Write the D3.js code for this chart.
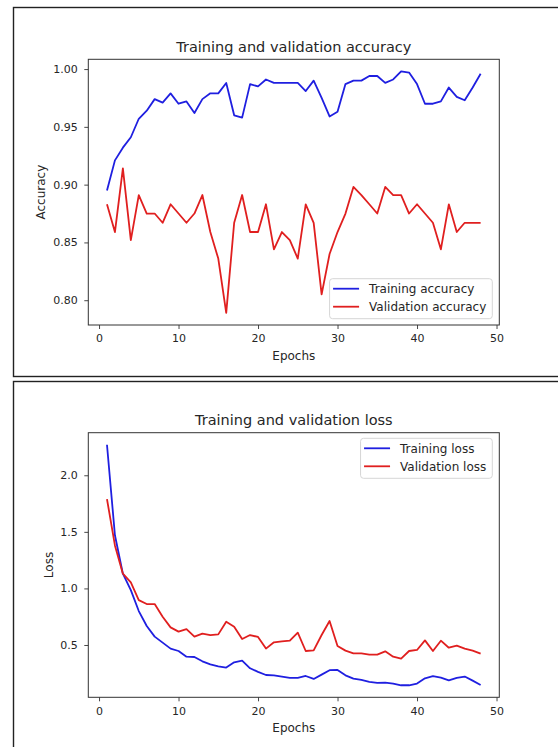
<!DOCTYPE html>
<html lang="en">
<head>
<meta charset="UTF-8">
<script src="https://d3js.org/d3.v7.min.js"></script>
<title>Training and validation curves</title>
<style>
  body { margin: 0; background: #fff; }
  text { font-family: "DejaVu Sans", sans-serif; fill: #262626; }
</style>
</head>
<body>
<div id="chart"></div>
<script>
// data (epochs 1..48)
const epochs = d3.range(1, 49);
const trainAcc = [0.895,0.921,0.932,0.941,0.957,0.964,0.974,0.971,0.979,0.970,
                  0.972,0.962,0.974,0.979,0.979,0.988,0.960,0.958,0.987,0.985,
                  0.991,0.988,0.988,0.988,0.988,0.981,0.990,0.975,0.959,0.963,
                  0.987,0.990,0.990,0.994,0.994,0.988,0.991,0.998,0.997,0.987,
                  0.970,0.970,0.972,0.984,0.976,0.973,0.984,0.996];
const valAcc = [0.883,0.859,0.914,0.852,0.891,0.875,0.875,0.867,0.883,0.875,
                0.867,0.875,0.891,0.859,0.836,0.789,0.867,0.891,0.859,0.859,
                0.883,0.844,0.859,0.852,0.836,0.883,0.867,0.805,0.840,0.859,
                0.875,0.898,0.891,0.883,0.875,0.898,0.891,0.891,0.875,0.883,
                0.875,0.867,0.844,0.883,0.859,0.867,0.867,0.867];
const trainLoss = [2.27,1.47,1.13,0.985,0.80,0.668,0.574,0.521,0.468,0.447,
                   0.397,0.394,0.356,0.329,0.312,0.300,0.347,0.362,0.294,0.262,
                   0.235,0.232,0.221,0.209,0.209,0.226,0.200,0.238,0.277,0.279,
                   0.232,0.203,0.191,0.174,0.165,0.168,0.159,0.144,0.144,0.159,
                   0.206,0.224,0.212,0.188,0.209,0.221,0.185,0.147];
const valLoss = [1.79,1.38,1.13,1.053,0.897,0.862,0.862,0.750,0.656,0.618,
                 0.641,0.574,0.600,0.588,0.594,0.706,0.662,0.553,0.588,0.571,
                 0.468,0.524,0.532,0.538,0.609,0.447,0.453,0.588,0.712,0.491,
                 0.450,0.426,0.426,0.415,0.415,0.444,0.397,0.379,0.447,0.456,
                 0.541,0.447,0.538,0.476,0.494,0.468,0.450,0.424];

const xTicks = [0, 10, 20, 30, 40, 50];
const accTicks = [0.80, 0.85, 0.90, 0.95, 1.00];
const lossTicks = [0.5, 1.0, 1.5, 2.0];

const blue = "#1f1fe0", red = "#e01f1f";

const svg = d3.select("#chart").append("svg")
    .attr("width", 558)
    .attr("height", 747);

// the two output cells have a dark frame, clipped on the right/bottom
svg.append("rect")
    .attr("x", 13.5).attr("y", 7.5).attr("width", 600).attr("height", 369)
    .attr("fill", "none").attr("stroke", "#222").attr("stroke-width", 1.4);
svg.append("rect")
    .attr("x", 13.5).attr("y", 381.5).attr("width", 600).attr("height", 420)
    .attr("fill", "none").attr("stroke", "#222").attr("stroke-width", 1.4);

// matplotlib style autoscale: 5% margin on both sides
const padded = (ext) => {
    const d = ext[1] - ext[0];
    return [ext[0] - 0.05 * d, ext[1] + 0.05 * d];
};

function panel(o) {
    const g = svg.append("g");
    const left = 88.3, right = 499.3;

    const x = d3.scaleLinear()
        .domain(padded(d3.extent(epochs)))
        .range([left, right]);
    const y = d3.scaleLinear()
        .domain(padded(d3.extent(o.series.flatMap(s => s.values))))
        .range([o.bottom, o.top]);

    // x axis
    const xa = g.append("g")
        .attr("transform", `translate(0,${o.bottom})`)
        .call(d3.axisBottom(x).tickValues(xTicks).tickSize(4).tickPadding(5.5));
    // y axis
    const ya = g.append("g")
        .attr("transform", `translate(${left},0)`)
        .call(d3.axisLeft(y).tickValues(o.yTicks).tickFormat(d3.format(o.fmt)).tickSize(4).tickPadding(6.5));
    [xa, ya].forEach(a => {
        a.select(".domain").remove();
        a.selectAll("line").attr("stroke", "#333").attr("stroke-width", 0.9);
        a.selectAll("text").attr("font-size", 11).attr("fill", "#262626")
            .attr("font-family", "DejaVu Sans, sans-serif");
    });

    // lines
    const line = d3.line()
        .x((d, i) => x(epochs[i]))
        .y(d => y(d));
    o.series.forEach(s => {
        g.append("path")
            .datum(s.values)
            .attr("fill", "none")
            .attr("stroke", s.color)
            .attr("stroke-width", 1.8)
            .attr("stroke-linejoin", "round")
            .attr("d", line);
    });

    // axes frame
    g.append("rect")
        .attr("x", left).attr("y", o.top)
        .attr("width", right - left).attr("height", o.bottom - o.top)
        .attr("fill", "none").attr("stroke", "#333").attr("stroke-width", 1);

    // title and labels
    const cx = (left + right) / 2;
    g.append("text").attr("x", cx).attr("y", o.titleY)
        .attr("text-anchor", "middle").attr("font-size", 14.5)
        .text(o.title);
    g.append("text").attr("x", cx).attr("y", o.xLabelY)
        .attr("text-anchor", "middle").attr("font-size", 12)
        .text("Epochs");
    g.append("text")
        .attr("transform", `translate(${o.yLabelX},${(o.top + o.bottom) / 2}) rotate(-90)`)
        .attr("text-anchor", "middle").attr("font-size", 12)
        .text(o.yLabel);

    // legend
    const lg = g.append("g");
    const box = lg.append("rect")
        .attr("fill", "#fff").attr("fill-opacity", 0.85)
        .attr("stroke", "#d6d6d6").attr("rx", 3);
    let maxW = 0;
    o.series.forEach((s, i) => {
        const ly = 10 + i * 18;
        lg.append("line")
            .attr("x1", 3.5).attr("x2", 29.5).attr("y1", ly).attr("y2", ly)
            .attr("stroke", s.color).attr("stroke-width", 1.8);
        const t = lg.append("text")
            .attr("x", 39.5).attr("y", ly + 4.3)
            .attr("font-size", 12)
            .text(s.name);
        maxW = Math.max(maxW, t.node().getComputedTextLength());
    });
    const bw = 39.5 + maxW + 6, bh = 40;
    box.attr("width", bw).attr("height", bh);
    const lx = right - 7 - bw;
    const ly = o.legend === "lower" ? o.bottom - 6.3 - bh : o.top + 5.6;
    lg.attr("transform", `translate(${lx},${ly})`);
}

panel({
    top: 59.3, bottom: 325,
    title: "Training and validation accuracy", titleY: 51.5,
    xLabelY: 360, yLabel: "Accuracy", yLabelX: 44.5,
    yTicks: accTicks, fmt: ".2f", legend: "lower",
    series: [
        {values: trainAcc, color: blue, name: "Training accuracy"},
        {values: valAcc, color: red, name: "Validation accuracy"}
    ]
});

panel({
    top: 432.7, bottom: 697.3,
    title: "Training and validation loss", titleY: 424.5,
    xLabelY: 732, yLabel: "Loss", yLabelX: 52.5,
    yTicks: lossTicks, fmt: ".1f", legend: "upper",
    series: [
        {values: trainLoss, color: blue, name: "Training loss"},
        {values: valLoss, color: red, name: "Validation loss"}
    ]
});
</script>
</body>
</html>
